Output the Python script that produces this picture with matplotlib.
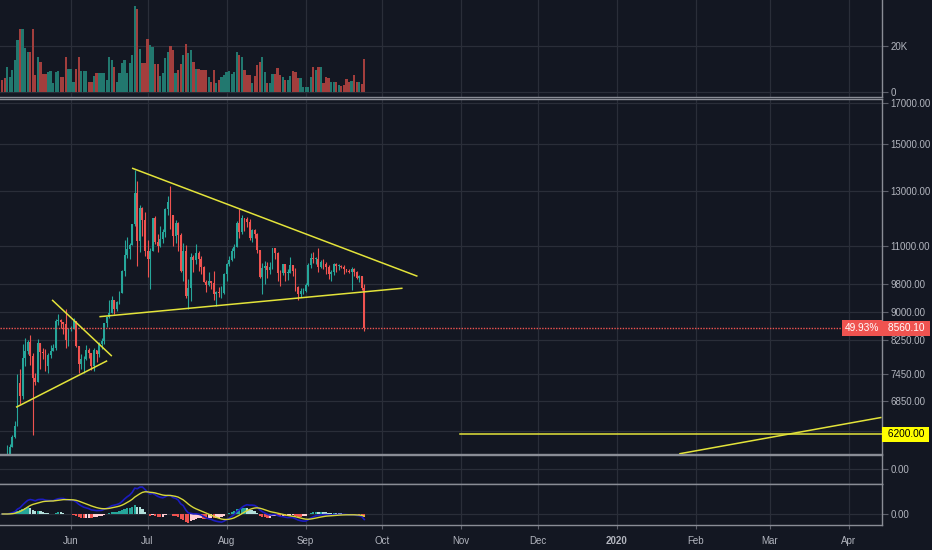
import numpy as np
import pandas as pd
import matplotlib
matplotlib.use("Agg")
import matplotlib.pyplot as plt
import matplotlib.dates as mdates
from matplotlib.ticker import FixedLocator, FixedFormatter, NullLocator
from matplotlib.transforms import blended_transform_factory

# BTCUSD daily, 2019-05-05 .. 2019-09-24
first_open = 5770
close = [
    5720, 5690, 5760, 5960, 6150, 6350, 7250, 6970, 7810, 7980, 8200, 7870, 7360, 7260,
    8190, 7960, 7950, 7630, 7880, 7990, 8050, 8740, 8780, 8720, 8660, 8270, 8550,
    8560, 8740, 8110, 7670, 7790, 7800, 8000, 7930, 7630, 8020, 7920, 8170, 8230, 8690,
    8850, 8980, 9320, 9080, 9270, 9520, 10200, 10720, 10900, 11020, 11780, 12950, 11160,
    12350, 11900, 10830,
    10580, 10820, 11980, 11150, 11000, 11250, 11480, 12300, 12580, 12100, 11350, 11800,
    11380, 10200, 10850, 9450, 9680, 10640, 10530, 10760, 10590, 10330, 9860, 9770, 9880,
    9840, 9490, 9550, 9530, 9530, 10090,
    10400, 10530, 10820, 10980, 11800, 11470, 11980, 11960, 11850, 11290, 11550, 11400,
    10860, 10020, 10300, 10350, 10220, 10320, 10920, 10760, 10140, 10130, 10400, 10140,
    10140, 10370, 10180, 9720, 9490, 9580, 9600,
    9760, 10380, 10620, 10580, 10580, 10310, 10480, 10400, 10330, 10110, 10160, 10420,
    10360, 10360, 10310, 10260, 10190, 10160, 10270, 10170, 9980, 10030, 9690, 8560.10,
]
high = [
    5790, 5750, 5990, 6010, 6180, 6450, 7450, 7550, 8150, 8300, 8270, 8380, 7930, 7480,
    8280, 8190, 8050, 8030, 7940, 8140, 8150, 8800, 8950, 8800, 8730, 9080, 8570,
    8620, 8820, 8740, 8120, 7910, 7870, 8140, 8070, 7950, 8060, 8020, 8200, 8320, 8700,
    8870, 9330, 9440, 9340, 9300, 9580, 10240, 11200, 11300, 11100, 11780, 13880, 13400,
    12450, 12380, 12200,
    11200, 10920, 11990, 12050, 11420, 11680, 11600, 12360, 12800, 13200, 12100, 11900,
    11850, 11450, 11100, 11050, 9950, 10780, 10700, 11080, 10820, 10660, 10340, 9920, 10160,
    9890, 10200, 9600, 9720, 9740, 10120,
    10450, 10660, 10930, 11080, 11890, 12300, 12100, 12000, 12030, 11930, 11580, 11580,
    11450, 10880, 10450, 10520, 10470, 10470, 10950, 10950, 10790, 10230, 10430, 10420,
    10250, 10630, 10390, 10290, 9730, 9690, 9680,
    9820, 10440, 10780, 10800, 10640, 10930, 10550, 10590, 10480, 10390, 10230, 10450,
    10440, 10420, 10390, 10370, 10270, 10270, 10330, 10280, 10190, 10080, 10050, 9800,
]
low = [
    5610, 5600, 5690, 5730, 5960, 6120, 6350, 6800, 6900, 7620, 7910, 7650, 6180, 7190,
    7260, 7560, 7800, 7520, 7480, 7810, 7990, 8000, 8650, 8580, 8420, 8050, 8110,
    8480, 8540, 8080, 7470, 7570, 7460, 7760, 7830, 7540, 7510, 7720, 7840, 8030, 8160,
    8600, 8840, 8980, 8950, 9030, 9220, 9520, 10050, 10620, 10560, 11020, 11700, 10350,
    10800, 11350, 10670,
    10000, 9650, 10820, 11060, 10800, 10980, 11100, 11320, 12100, 11600, 11000, 11100,
    10850, 10150, 9900, 9400, 9080, 9300, 10150, 10400, 10200, 10100, 9850, 9550, 9740,
    9650, 9320, 9150, 9410, 9380, 9500,
    9900, 10350, 10520, 10600, 10970, 11260, 11420, 11500, 11670, 11200, 11150, 11260,
    10770, 9980, 9500, 9800, 9980, 10110, 10250, 10580, 9900, 9750, 10060, 9880,
    9920, 10140, 10040, 9600, 9340, 9430, 9500,
    9550, 9750, 10300, 10440, 10410, 10150, 10300, 10270, 10100, 9950, 9890, 10070,
    10160, 10240, 10280, 10100, 10150, 10130, 9630, 10050, 9960, 9860, 9620, 8500,
]
# volume in thousands
volume_k = [
    5.1, 5.8, 10.9, 6.5, 9.4, 13.8, 22.5, 27.3, 27.3, 18.9, 17.4, 17.4, 27.3, 7.3,
    15.2, 13.1, 7.7, 7.7, 8.7, 9.1, 3.6, 8.7, 9.1, 6.5, 6.5, 15.2, 9.9,
    9.9, 4.4, 9.9, 15.2, 9.1, 9.1, 9.1, 4.4, 4.4, 6.8, 8.3, 8.3, 8.3, 8.3,
    5.1, 14.9, 13.8, 10.9, 4.4, 8.3, 12.3, 13.8, 8.3, 12.3, 16.0, 37.4, 36.0,
    18.4, 12.3, 12.3,
    22.8, 20.3, 19.6, 12.0, 12.0, 6.8, 8.3, 14.5, 17.4, 19.9, 18.1, 8.3,
    9.4, 12.0, 16.0, 20.6, 16.7, 18.1, 13.1, 9.7, 9.7, 9.4, 9.4, 9.4, 6.5,
    4.4, 9.4, 3.6, 5.1, 6.5, 7.3,
    8.7, 9.1, 7.7, 8.7, 17.1, 16.0, 15.2, 9.4, 7.3, 7.3, 3.9, 6.8,
    11.6, 13.1, 14.9, 8.7, 3.6, 3.6, 7.7, 7.7, 10.2, 7.3, 6.5, 5.1,
    5.1, 6.8, 9.1, 8.7, 5.8, 5.8, 1.9,
    1.9, 1.9, 6.2, 10.9, 9.4, 10.6, 10.9, 3.6, 6.2, 5.8, 4.4, 4.4,
    4.4, 2.9, 2.5, 2.9, 5.4, 4.4, 4.8, 7.3, 4.4, 4.4, 3.3, 14.1,
]
change_text = "49.93%"
support_level = 6200

# drawn trendlines: (dates, prices)
tri_upper = (["2019-06-25 05:00", "2019-10-14 14:00"], [13940, 10040])
tri_lower = (["2019-06-12 10:00", "2019-10-08 17:00"], [8870, 9670])
flag_upper = (["2019-05-24 19:00", "2019-06-16 19:00"], [9320, 7876])
flag_lower = (["2019-05-10 17:00", "2019-06-14 22:00"], [6734, 7745])
support_line = (["2019-10-31 12:00", "2020-04-30 00:00"], [support_level, support_level])
long_trend = (["2020-01-25 19:00", "2020-04-13 12:00"], [5840, 6520])

price_ticks = [17000, 15000, 13000, 11000, 9800, 9000, 8250, 7450, 6850, 6250]
price_tick_labels = ["17000.00", "15000.00", "13000.00", "11000.00", "9800.00",
                     "9000.00", "8250.00", "7450.00", "6850.00", ""]
month_ticks = ["2019-06-01", "2019-07-01", "2019-08-01", "2019-09-01", "2019-10-01",
               "2019-11-01", "2019-12-01", "2020-01-01", "2020-02-01", "2020-03-01",
               "2020-04-01"]
month_labels = ["Jun", "Jul", "Aug", "Sep", "Oct", "Nov", "Dec", "2020", "Feb", "Mar", "Apr"]

BG = "#131722"
GRID = "#2a2e39"
TXT = "#b2b5be"
SEP = "#8a8d96"
UP = "#26a69a"
DN = "#ef5350"
YEL = "#e3e33a"
FS = 7

plt.rcParams["font.family"] = ["Liberation Sans", "DejaVu Sans"]

close = np.array(close, dtype=float)
high = np.array(high, dtype=float)
low = np.array(low, dtype=float)
open_ = np.concatenate([[first_open], close[:-1]])
dates = pd.date_range("2019-05-05", periods=len(close), freq="D")
x = mdates.date2num(dates)
is_up = close >= open_
cols = np.where(is_up, UP, DN)
vol_cols = np.where(is_up, "#22786f", "#a23e3d")

# MACD 12/26/9
cs = pd.Series(close)
macd = cs.ewm(span=12, adjust=False).mean() - cs.ewm(span=26, adjust=False).mean()
signal = macd.ewm(span=9, adjust=False).mean()
hist = (macd - signal).values
dh = np.diff(hist, prepend=hist[0])
hist_cols = np.where(hist >= 0, np.where(dh >= 0, "#26a69a", "#b2dfdb"),
                     np.where(dh >= 0, "#ffcdd2", "#ef5350"))

W, H = 932, 550
fig = plt.figure(figsize=(W / 100, H / 100), dpi=100, facecolor=BG)


def panel(top, bottom):
    return fig.add_axes([0, 1 - bottom / H, 882 / W, (bottom - top) / H], facecolor=BG)


ax_v = panel(0, 96.5)
ax_p = panel(99.3, 454)
ax_e = panel(454.5, 483.5)
ax_m = panel(484, 524.6)
axes = [ax_v, ax_p, ax_e, ax_m]

jun1 = mdates.date2num(pd.Timestamp("2019-06-01"))
xlim = (jun1 - 27.84, jun1 + 318.0)


def to_num(strs):
    return mdates.date2num(pd.to_datetime(strs, format="%Y-%m-%d %H:%M"))


for ax in axes:
    ax.set_xlim(*xlim)
    ax.xaxis.set_major_locator(FixedLocator(mdates.date2num(pd.to_datetime(month_ticks))))
    ax.grid(True, color=GRID, lw=0.9)
    ax.set_axisbelow(True)
    ax.yaxis.tick_right()
    ax.tick_params(axis="y", direction="out", length=4, color="#5d606b",
                   labelcolor=TXT, labelsize=FS, pad=2)
    ax.tick_params(axis="x", length=0, labelbottom=False)
    ax.spines["left"].set_visible(False)
    for s in ["right", "top", "bottom"]:
        ax.spines[s].set_color(SEP)
        ax.spines[s].set_linewidth(1.0)
ax_v.spines["top"].set_visible(False)

# volume
ax_v.bar(x, np.array(volume_k) * 1000, width=0.88, color=vol_cols, linewidth=0)
ax_v.set_ylim(-2090, 39900)
ax_v.set_yticks([0, 20000])
ax_v.set_yticklabels(["0", "20K"])

# candles
ax_p.set_yscale("log")
ax_p.vlines(x, low, high, colors=cols, lw=0.8)
ax_p.bar(x, np.maximum(np.abs(close - open_), 12), bottom=np.minimum(open_, close),
         width=0.72, color=cols, linewidth=0)
ax_p.set_ylim(5834, 17210)
ax_p.yaxis.set_major_locator(FixedLocator(price_ticks))
ax_p.yaxis.set_major_formatter(FixedFormatter(price_tick_labels))
ax_p.yaxis.set_minor_locator(NullLocator())

for d, p in [tri_upper, tri_lower, flag_upper, flag_lower, support_line, long_trend]:
    ax_p.plot(to_num(d), p, color=YEL, lw=1.1, zorder=4)

ax_p.axhline(close[-1], color=DN, lw=1.0, ls=(0, (1, 1)), zorder=3)
tr = blended_transform_factory(ax_p.transAxes, ax_p.transData)
ax_p.text(1.003, close[-1], f" {close[-1]:.2f} ", transform=tr, ha="left", va="center",
          color="white", fontsize=FS + 0.3, clip_on=False, zorder=6,
          bbox=dict(boxstyle="square,pad=0.25", fc=DN, ec="none"))
ax_p.text(0.997, close[-1], change_text, transform=tr, ha="right", va="center",
          color="white", fontsize=FS + 0.3, zorder=6,
          bbox=dict(boxstyle="square,pad=0.3", fc=DN, ec="none"))
ax_p.text(1.003, support_level, f" {support_level:.2f} ", transform=tr, ha="left",
          va="center", color="black", fontsize=FS + 0.3, clip_on=False, zorder=6,
          bbox=dict(boxstyle="square,pad=0.25", fc="#ffff00", ec="none"))

# empty indicator pane
ax_e.set_ylim(-1, 1)
ax_e.set_yticks([0])
ax_e.set_yticklabels(["0.00"])

# MACD pane
ax_m.bar(x, hist, width=0.9, color=hist_cols, linewidth=0)
ax_m.plot(x, macd.values, color="#1c1cc0", lw=1.2)
ax_m.plot(x, signal.values, color="#d8d83a", lw=1.0)
m = macd.max()
ax_m.set_ylim(-0.3925 * m, 1.111 * m)
ax_m.set_yticks([0])
ax_m.set_yticklabels(["0.00"])
ax_m.tick_params(axis="x", length=3, color="#5d606b", labelbottom=True,
                 labelcolor=TXT, labelsize=FS, pad=5)
ax_m.set_xticklabels(month_labels)
for lbl in ax_m.get_xticklabels():
    if lbl.get_text() == "2020":
        lbl.set_fontweight("bold")

fig.savefig("out.png", dpi=100, facecolor=BG)
